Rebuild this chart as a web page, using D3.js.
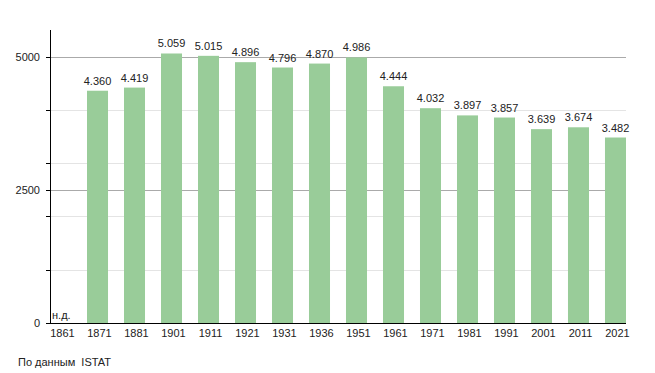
<!DOCTYPE html>
<html>
<head>
<meta charset="utf-8">
<script src="https://cdn.jsdelivr.net/npm/d3@7"></script>
<style>
  body { margin: 0; background: #fff; }
  text { font-family: "Liberation Sans", Arial, sans-serif; fill: #222; }
</style>
</head>
<body>
<svg id="chart"></svg>
<script>
const years = ['1861', '1871', '1881', '1901', '1911', '1921', '1931', '1936',
  '1951', '1961', '1971', '1981', '1991', '2001', '2011', '2021'];
const population = [null, 4360, 4419, 5059, 5015, 4896, 4796, 4870,
  4986, 4444, 4032, 3897, 3857, 3639, 3674, 3482];
const majorTicks = [0, 2500, 5000];
const minorTicks = [1000, 2000, 3000, 4000, 5000];

const width = 655;
const height = 373;
const margin = { top: 30, right: 29, bottom: 50, left: 50 };

const data = years.map((y, i) => ({ year: y, value: population[i] }));

const svg = d3.select('#chart')
  .attr('width', width)
  .attr('height', height);

const x = d3.scaleBand()
  .domain(years)
  .range([margin.left, width - margin.right])
  .paddingInner(0.432)
  .paddingOuter(0);

const y = d3.scaleLinear()
  .domain([0, 5500])
  .range([height - margin.bottom, margin.top]);

const py = v => Math.round(y(v)) + 0.5;

// minor grid
svg.append('g')
  .selectAll('line')
  .data(minorTicks)
  .join('line')
  .attr('x1', margin.left)
  .attr('x2', width - margin.right)
  .attr('y1', py)
  .attr('y2', py)
  .attr('stroke', '#e4e4e4');

// major grid
svg.append('g')
  .selectAll('line')
  .data(majorTicks.filter(d => d > 0))
  .join('line')
  .attr('x1', margin.left)
  .attr('x2', width - margin.right)
  .attr('y1', py)
  .attr('y2', py)
  .attr('stroke', '#aaa');

// bars
svg.append('g')
  .selectAll('rect')
  .data(data.filter(d => d.value != null))
  .join('rect')
  .attr('x', d => x(d.year))
  .attr('width', x.bandwidth())
  .attr('y', d => y(d.value))
  .attr('height', d => y(0) - y(d.value))
  .attr('fill', '#99cc99');

const fmt = v => d3.format(',')(v).replace(',', '.');

// value labels
svg.append('g')
  .selectAll('text')
  .data(data)
  .join('text')
  .attr('x', d => d.value == null ? x(d.year) + 2 : x(d.year) + x.bandwidth() / 2)
  .attr('y', d => d.value == null ? y(0) - 4 : y(d.value) - 6)
  .attr('text-anchor', d => d.value == null ? 'start' : 'middle')
  .attr('font-size', 11)
  .text(d => d.value == null ? 'н.д.' : fmt(d.value));

// y axis
const yAxis = svg.append('g')
  .attr('transform', `translate(${margin.left},0)`);
yAxis.append('line')
  .attr('x1', 0.5).attr('x2', 0.5)
  .attr('y1', margin.top).attr('y2', y(0))
  .attr('stroke', '#000');
yAxis.selectAll('text')
  .data(majorTicks)
  .join('text')
  .attr('x', -10)
  .attr('y', d => y(d) + 4)
  .attr('text-anchor', 'end')
  .attr('font-size', 11)
  .text(d => d);
yAxis.selectAll('line.tk')
  .data([0, 2500, 5000, 1000, 2000, 3000, 4000])
  .join('line')
  .attr('class', 'tk')
  .attr('x1', -4).attr('x2', 0)
  .attr('y1', py)
  .attr('y2', py)
  .attr('stroke', '#000');

// x axis
svg.append('line')
  .attr('x1', margin.left)
  .attr('x2', width - margin.right)
  .attr('y1', py(0))
  .attr('y2', py(0))
  .attr('stroke', '#000');

svg.append('g')
  .selectAll('text')
  .data(years)
  .join('text')
  .attr('x', d => x(d) + x.bandwidth() / 2 + 2)
  .attr('y', y(0) + 14)
  .attr('text-anchor', 'middle')
  .attr('font-size', 11)
  .text(d => d);

svg.append('text')
  .attr('x', 18)
  .attr('y', 366)
  .attr('font-size', 11)
  .attr('xml:space', 'preserve')
  .text('По данным  ISTAT');
</script>
</body>
</html>
